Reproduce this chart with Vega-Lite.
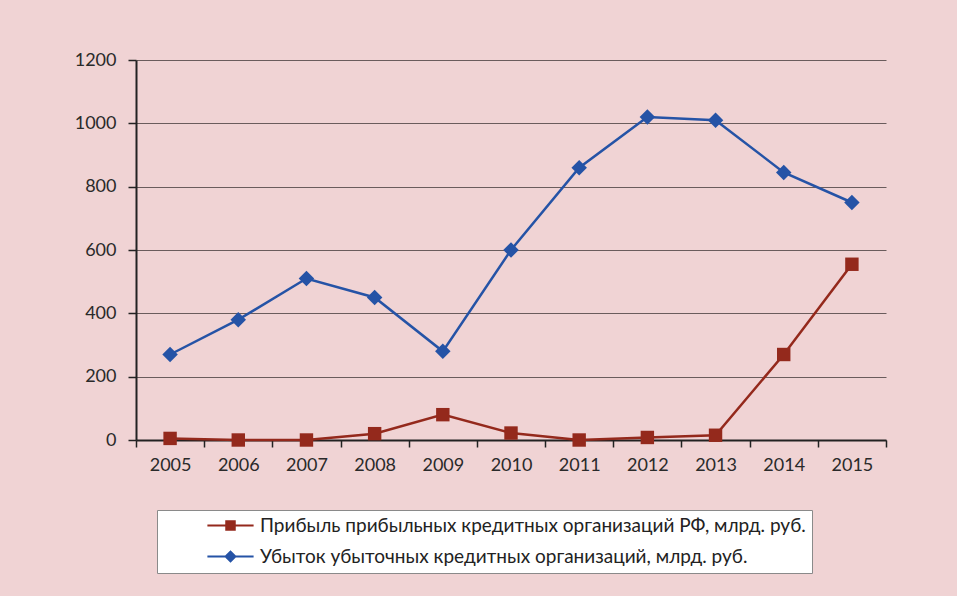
{
  "$schema": "https://vega.github.io/schema/vega-lite/v6.json",
  "width": 750,
  "height": 380,
  "autosize": {"type": "none"},
  "padding": {"left": 136, "top": 60, "right": 71, "bottom": 156},
  "background": "#f0d3d4",
  "config": {
    "view": {"stroke": null},
    "font": "Lato",
    "axis": {"labelFont": "Lato", "labelFontSize": 18, "labelColor": "#2a2a2a", "titleFont": "Lato"},
    "legend": {"labelFont": "Lato"}
  },
  "data": {
    "values": [
      {"year": "2005", "series": "Прибыль прибыльных кредитных организаций РФ, млрд. руб.", "value": 5},
      {"year": "2006", "series": "Прибыль прибыльных кредитных организаций РФ, млрд. руб.", "value": 0},
      {"year": "2007", "series": "Прибыль прибыльных кредитных организаций РФ, млрд. руб.", "value": 0},
      {"year": "2008", "series": "Прибыль прибыльных кредитных организаций РФ, млрд. руб.", "value": 20},
      {"year": "2009", "series": "Прибыль прибыльных кредитных организаций РФ, млрд. руб.", "value": 80},
      {"year": "2010", "series": "Прибыль прибыльных кредитных организаций РФ, млрд. руб.", "value": 22},
      {"year": "2011", "series": "Прибыль прибыльных кредитных организаций РФ, млрд. руб.", "value": 0},
      {"year": "2012", "series": "Прибыль прибыльных кредитных организаций РФ, млрд. руб.", "value": 8},
      {"year": "2013", "series": "Прибыль прибыльных кредитных организаций РФ, млрд. руб.", "value": 15},
      {"year": "2014", "series": "Прибыль прибыльных кредитных организаций РФ, млрд. руб.", "value": 270},
      {"year": "2015", "series": "Прибыль прибыльных кредитных организаций РФ, млрд. руб.", "value": 555},
      {"year": "2005", "series": "Убыток убыточных кредитных организаций, млрд. руб.", "value": 270},
      {"year": "2006", "series": "Убыток убыточных кредитных организаций, млрд. руб.", "value": 380},
      {"year": "2007", "series": "Убыток убыточных кредитных организаций, млрд. руб.", "value": 510},
      {"year": "2008", "series": "Убыток убыточных кредитных организаций, млрд. руб.", "value": 450},
      {"year": "2009", "series": "Убыток убыточных кредитных организаций, млрд. руб.", "value": 280},
      {"year": "2010", "series": "Убыток убыточных кредитных организаций, млрд. руб.", "value": 600},
      {"year": "2011", "series": "Убыток убыточных кредитных организаций, млрд. руб.", "value": 860},
      {"year": "2012", "series": "Убыток убыточных кредитных организаций, млрд. руб.", "value": 1020},
      {"year": "2013", "series": "Убыток убыточных кредитных организаций, млрд. руб.", "value": 1010},
      {"year": "2014", "series": "Убыток убыточных кредитных организаций, млрд. руб.", "value": 845},
      {"year": "2015", "series": "Убыток убыточных кредитных организаций, млрд. руб.", "value": 750}
    ]
  },
  "encoding": {
    "x": {
      "field": "year", "type": "ordinal", "title": null,
      "scale": {"type": "band", "paddingInner": 0, "paddingOuter": 0},
      "axis": {"labelAngle": 0, "tickBand": "extent", "domainColor": "#222", "domainWidth": 2, "tickColor": "#222", "tickWidth": 1.5, "tickSize": 7, "labelPadding": 9, "grid": false}
    },
    "y": {
      "field": "value", "type": "quantitative", "title": null,
      "scale": {"domain": [0, 1200]},
      "axis": {"values": [0, 200, 400, 600, 800, 1000, 1200], "format": "d", "domainColor": "#222", "domainWidth": 2, "tickColor": "#222", "tickWidth": 1.5, "tickSize": 8, "labelPadding": 12, "grid": true, "gridColor": "#6a5c5c", "gridWidth": 1}
    }
  },
  "layer": [
    {
      "mark": {"type": "line", "strokeWidth": 2.5},
      "encoding": {
        "stroke": {"field": "series", "type": "nominal", "scale": {"range": ["#94291c", "#2553a6"]}, "legend": null}
      }
    },
    {
      "transform": [{"filter": "datum.series == 'Прибыль прибыльных кредитных организаций РФ, млрд. руб.'"}],
      "mark": {"type": "point", "filled": true, "opacity": 1, "shape": "square", "size": 180, "color": "#94291c"}
    },
    {
      "transform": [{"filter": "datum.series == 'Убыток убыточных кредитных организаций, млрд. руб.'"}],
      "mark": {"type": "point", "filled": true, "opacity": 1, "shape": "diamond", "size": 240, "color": "#2553a6"}
    },
    {
      "mark": {"type": "point", "filled": true, "opacity": 0},
      "encoding": {
        "shape": {
          "field": "series", "type": "nominal",
          "scale": {"range": ["M-3.3,-0.16H3.3V0.16H-3.3Z M-0.75,-0.75H0.75V0.75H-0.75Z", "M-3.3,-0.16H3.3V0.16H-3.3Z M0,-0.9L0.9,0L0,0.9L-0.9,0Z"]},
          "legend": {
            "title": null, "orient": "none", "legendX": 21, "legendY": 450,
            "fillColor": "#ffffff", "strokeColor": "#8a8a8a",
            "padding": 6, "symbolSize": 196, "symbolOpacity": 1, "symbolStrokeWidth": 0,
            "symbolOffset": 58, "labelOffset": 20, "labelFontSize": 19, "labelColor": "#222", "labelLimit": 800,
            "rowPadding": 11
          }
        },
        "color": {
          "field": "series", "type": "nominal",
          "scale": {"range": ["#94291c", "#2553a6"]},
          "legend": {
            "title": null, "orient": "none", "legendX": 21, "legendY": 450,
            "fillColor": "#ffffff", "strokeColor": "#8a8a8a",
            "padding": 6, "symbolSize": 196, "symbolOpacity": 1, "symbolStrokeWidth": 0,
            "symbolOffset": 58, "labelOffset": 20, "labelFontSize": 19, "labelColor": "#222", "labelLimit": 800,
            "rowPadding": 11
          }
        }
      }
    }
  ]
}
